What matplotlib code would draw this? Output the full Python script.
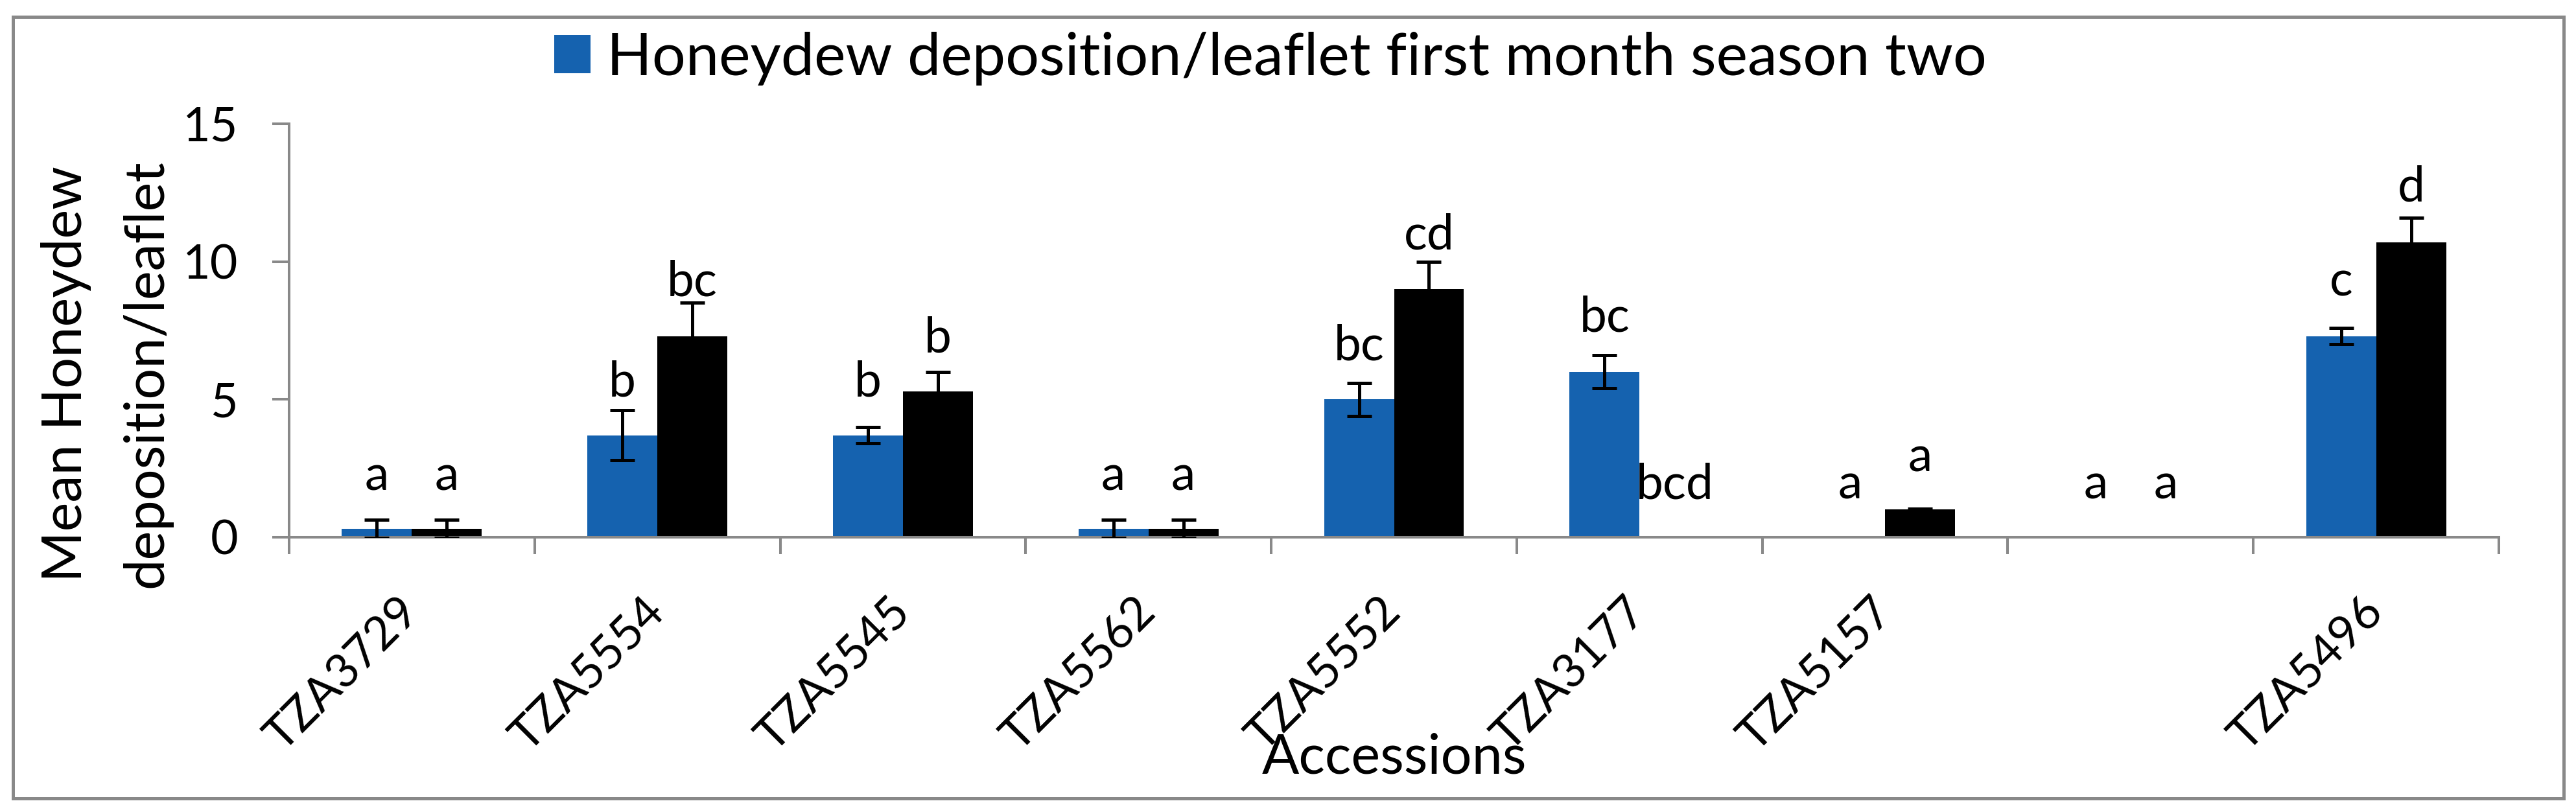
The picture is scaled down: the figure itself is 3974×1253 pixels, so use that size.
import matplotlib
matplotlib.use("Agg")
import matplotlib.pyplot as plt
from matplotlib.patches import Rectangle
import numpy as np

# Data
accessions = ["TZA3729", "TZA5554", "TZA5545", "TZA5562", "TZA5552",
              "TZA3177", "TZA5157", "", "TZA5496"]
season_two = [0.3, 3.7, 3.7, 0.3, 5.0, 6.0, 0, 0, 7.3]          # blue, in legend
season_two_err = [0.33, 0.9, 0.3, 0.33, 0.6, 0.6, 0, 0, 0.3]
second_series = [0.3, 7.3, 5.3, 0.3, 9.0, 0, 1.0, 0, 10.7]      # black
second_series_err = [0.33, 1.2, 0.7, 0.33, 1.0, 0, 0.04, 0, 0.9]
letters_blue = ["a", "b", "b", "a", "bc", "bc", "a", "a", "c"]
letters_black = ["a", "bc", "b", "a", "cd", "bcd", "a", "a", "d"]
yticks = [0, 5, 10, 15]

# where the letters sit (baseline, in data units)
letter_y_blue = [1.71, 5.12, 5.12, 1.71, 6.44, 7.47, 1.41, 1.41, 8.75]
letter_y_black = [1.71, 8.75, 6.72, 1.71, 10.45, 1.41, 2.39, 1.41, 12.18]

BLUE = "#1562AF"
GREY = "#898989"
plt.rcParams["font.family"] = ["Lato", "DejaVu Sans"]

W, H = 3974, 1253
fig = plt.figure(figsize=(W / 100, H / 100), dpi=100)
ax = fig.add_axes([446 / W, 1 - 829 / H, (3855 - 446) / W, (829 - 191) / H])

x = np.arange(len(accessions))
bw = 0.285
b1 = ax.bar(x - bw / 2, season_two, width=bw, color=BLUE, zorder=2,
            label="Honeydew deposition/leaflet first month season two")
ax.bar(x + bw / 2, second_series, width=bw, color="black", zorder=2)


def masked(vals, errs):
    v = np.array(vals, float)
    e = np.array(errs, float)
    v[e == 0] = np.nan
    return v, e


v, e = masked(season_two, season_two_err)
ax.errorbar(x - bw / 2, v, yerr=e, fmt="none", ecolor="black", elinewidth=3.6,
            capsize=13.5, capthick=3.6, zorder=3)
v, e = masked(second_series, second_series_err)
ax.errorbar(x + bw / 2, v, yerr=e, fmt="none", ecolor="black", elinewidth=3.6,
            capsize=13.5, capthick=3.6, zorder=3)

for i in range(len(accessions)):
    ax.text(x[i] - bw / 2, letter_y_blue[i], letters_blue[i], ha="center",
            va="baseline", fontsize=54)
    ax.text(x[i] + bw / 2, letter_y_black[i], letters_black[i], ha="center",
            va="baseline", fontsize=54)

ax.set_xlim(-0.5, len(accessions) - 0.5)
ax.set_ylim(0, 15)
ax.set_yticks(yticks)
ax.set_yticklabels([str(t) for t in yticks], fontsize=53)

# category boundaries get the tick marks, names sit at the centres
ax.set_xticks(np.arange(len(accessions) + 1) - 0.5)
ax.set_xticklabels([])
ax.set_xticks(x, minor=True)
ax.set_xticklabels(accessions, minor=True, fontsize=52)
ax.tick_params(axis="x", which="minor", length=0, pad=75)
ax.tick_params(axis="x", which="major", length=18.7, width=2.9, color=GREY,
               direction="out")
ax.tick_params(axis="y", length=18.7, width=2.9, color=GREY, direction="out",
               pad=38)
for lab in ax.get_xticklabels(minor=True):
    lab.set_rotation(45)
    lab.set_ha("right")
    lab.set_va("center")
    lab.set_rotation_mode("anchor")

for s in ["top", "right"]:
    ax.spines[s].set_visible(False)
for s in ["left", "bottom"]:
    ax.spines[s].set_color(GREY)
    ax.spines[s].set_linewidth(2.9)

fig.legend(handles=[b1], loc="center left",
           bbox_to_anchor=(855 / W, 1 - 90 / H), frameon=False, fontsize=66,
           handlelength=0.61, handleheight=0.61, handletextpad=0.27,
           borderpad=0, borderaxespad=0)

fig.text(126 / W, 1 - 577 / H, "Mean Honeydew", rotation=90, ha="center",
         va="baseline", rotation_mode="anchor", fontsize=61)
fig.text(250 / W, 1 - 577 / H, "deposition/leaflet", rotation=90, ha="center",
         va="baseline", rotation_mode="anchor", fontsize=61)
fig.text(2151 / W, 1 - 1194 / H, "Accessions", ha="center", va="baseline",
         fontsize=61)

fig.patches.append(Rectangle((19.5 / W, 1 - 1232 / H), (3954.5 - 19.5) / W,
                             (1232 - 25.5) / H, transform=fig.transFigure,
                             fill=False, edgecolor=GREY, linewidth=3.6))

fig.savefig("out.png", dpi=100)
